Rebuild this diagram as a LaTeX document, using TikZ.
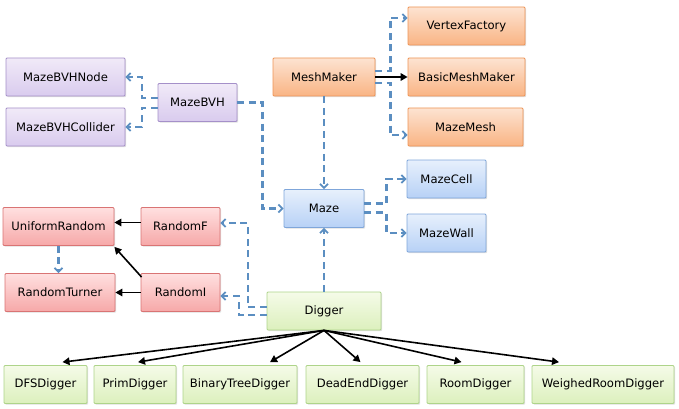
\documentclass[tikz,border=0pt]{standalone}
\usepackage{fontspec}
\setmainfont{DejaVu Sans}
\usetikzlibrary{shadows,calc,arrows.meta}

\definecolor{bvhtop}{HTML}{F1EAF8}
\definecolor{bvhbot}{HTML}{D9CBEE}
\definecolor{bvhline}{HTML}{A590C9}
\definecolor{meshtop}{HTML}{FDE3D1}
\definecolor{meshbot}{HTML}{F9B484}
\definecolor{meshline}{HTML}{EE9456}
\definecolor{mazetop}{HTML}{E7F0FC}
\definecolor{mazebot}{HTML}{B7D1F6}
\definecolor{mazeline}{HTML}{7FA6DA}
\definecolor{randtop}{HTML}{FFE0E0}
\definecolor{randbot}{HTML}{F6A8A8}
\definecolor{randline}{HTML}{D97474}
\definecolor{digtop}{HTML}{F5FBE8}
\definecolor{digbot}{HTML}{DCF0BD}
\definecolor{digline}{HTML}{AED48A}
\definecolor{dashblue}{HTML}{5B8EC1}

\tikzset{
  classbox/.style={draw, line width=0.8pt, rounded corners=1pt, shading=axis,
    minimum height=38pt, inner sep=0pt,
    font=\fontsize{11.6}{13}\selectfont,
    drop shadow={shadow xshift=1.2pt, shadow yshift=-1.2pt, opacity=0.25}},
  bvhbox/.style={classbox, draw=bvhline, top color=bvhtop, bottom color=bvhbot},
  meshbox/.style={classbox, draw=meshline, top color=meshtop, bottom color=meshbot},
  mazebox/.style={classbox, draw=mazeline, top color=mazetop, bottom color=mazebot},
  randbox/.style={classbox, draw=randline, top color=randtop, bottom color=randbot},
  digbox/.style={classbox, draw=digline, top color=digtop, bottom color=digbot},
  uses/.style={draw=dashblue, line width=2.2pt, dash pattern=on 7pt off 4.5pt,
    -{Straight Barb[length=4pt,width=8pt,line width=1.8pt]}},
  inherits/.style={draw=black, line width=1.6pt, -{Triangle[length=7pt,width=7.5pt]}}
}

\begin{document}
\begin{tikzpicture}[x=1pt,y=1pt,yscale=-1,xscale=1]
\useasboundingbox (0,0) rectangle (679,409);

% BVH classes
\node[bvhbox, minimum width=119pt] (bvhnode) at (65.5,77) {MazeBVHNode};
\node[bvhbox, minimum width=119pt] (bvhcoll) at (65.5,127) {MazeBVHCollider};
\node[bvhbox, minimum width=79pt] (bvh) at (197.5,102.5) {MazeBVH};

% mesh classes
\node[meshbox, minimum width=102pt] (meshmaker) at (324,77) {MeshMaker};
\node[meshbox, minimum width=117pt] (vertexf) at (466.5,26) {VertexFactory};
\node[meshbox, minimum width=117pt] (basicmm) at (466.5,77) {BasicMeshMaker};
\node[meshbox, minimum width=115pt] (mazemesh) at (465.5,127) {MazeMesh};

% maze classes
\node[mazebox, minimum width=80pt] (maze) at (324,208.5) {Maze};
\node[mazebox, minimum width=79pt] (mazecell) at (446.5,179) {MazeCell};
\node[mazebox, minimum width=79pt] (mazewall) at (446.5,233) {MazeWall};

% random classes
\node[randbox, minimum width=111pt] (unirand) at (58.5,226.5) {UniformRandom};
\node[randbox, minimum width=79pt] (randf) at (180.5,226.5) {RandomF};
\node[randbox, minimum width=110pt] (randturner) at (60,292.5) {RandomTurner};
\node[randbox, minimum width=79pt] (randi) at (180.5,292.5) {RandomI};

% diggers
\node[digbox, minimum width=114pt] (digger) at (324,311) {Digger};
\node[digbox, minimum width=83pt] (dfs) at (45.5,384.5) {DFSDigger};
\node[digbox, minimum width=82pt] (prim) at (135,384.5) {PrimDigger};
\node[digbox, minimum width=114pt] (bintree) at (240,384.5) {BinaryTreeDigger};
\node[digbox, minimum width=113pt] (deadend) at (362.5,384.5) {DeadEndDigger};
\node[digbox, minimum width=97pt] (room) at (475.5,384.5) {RoomDigger};
\node[digbox, minimum width=142pt] (weighed) at (603,384.5) {WeighedRoomDigger};

% dependencies
\draw[uses] ($(bvh.west)+(0,-4.5)$) -- ++(-16,0) |- (bvhnode.east);
\draw[uses] ($(bvh.west)+(0,5.5)$) -- ++(-16,0) |- (bvhcoll.east);
\draw[uses] (bvh.east) -- ++(25,0) |- (maze.west);
\draw[uses] ($(meshmaker.east)+(0,-6)$) -- ++(15,0) |- ($(vertexf.west)+(0,-8)$);
\draw[uses] ($(meshmaker.east)+(0,6)$) -- ++(15,0) |- ($(mazemesh.west)+(0,8)$);
\draw[uses] (meshmaker.south) -- (maze.north);
\draw[uses] ($(maze.east)+(0,-5)$) -- ++(22,0) |- (mazecell.west);
\draw[uses] ($(maze.east)+(0,4)$) -- ++(22,0) |- (mazewall.west);
\draw[uses] (digger.north) -- (maze.south);
\draw[uses] ($(digger.west)+(0,-4)$) -- ++(-19,0) |- ($(randf.east)+(0,-3.5)$);
\draw[uses] ($(digger.west)+(0,4)$) -- ++(-28,0) |- ($(randi.east)+(0,3.5)$);
\draw[uses] (unirand.south) -- (unirand.south |- randturner.north);

% inheritance
\draw[inherits] (meshmaker.east) -- (basicmm.west);
\draw[inherits] ($(randf.west)+(0,-4)$) -- ($(unirand.east)+(0,-4)$);
\draw[inherits] ($(randi.north west)+(1,4)$) -- ($(unirand.south east)+(0,1)$);
\draw[inherits] (randi.west) -- (randturner.east);
\draw[inherits] (digger.south) -- ($(dfs.north)+(17,-3)$);
\draw[inherits] (digger.south) -- ($(prim.north)+(3,-3)$);
\draw[inherits] (digger.south) -- ($(bintree.north)+(30,-3)$);
\draw[inherits] (digger.south) -- ($(deadend.north)+(-2,-3)$);
\draw[inherits] (digger.south) -- ($(room.north)+(-14,-3)$);
\draw[inherits] (digger.south) -- ($(weighed.north)+(-44,-3)$);
\end{tikzpicture}
\end{document}
